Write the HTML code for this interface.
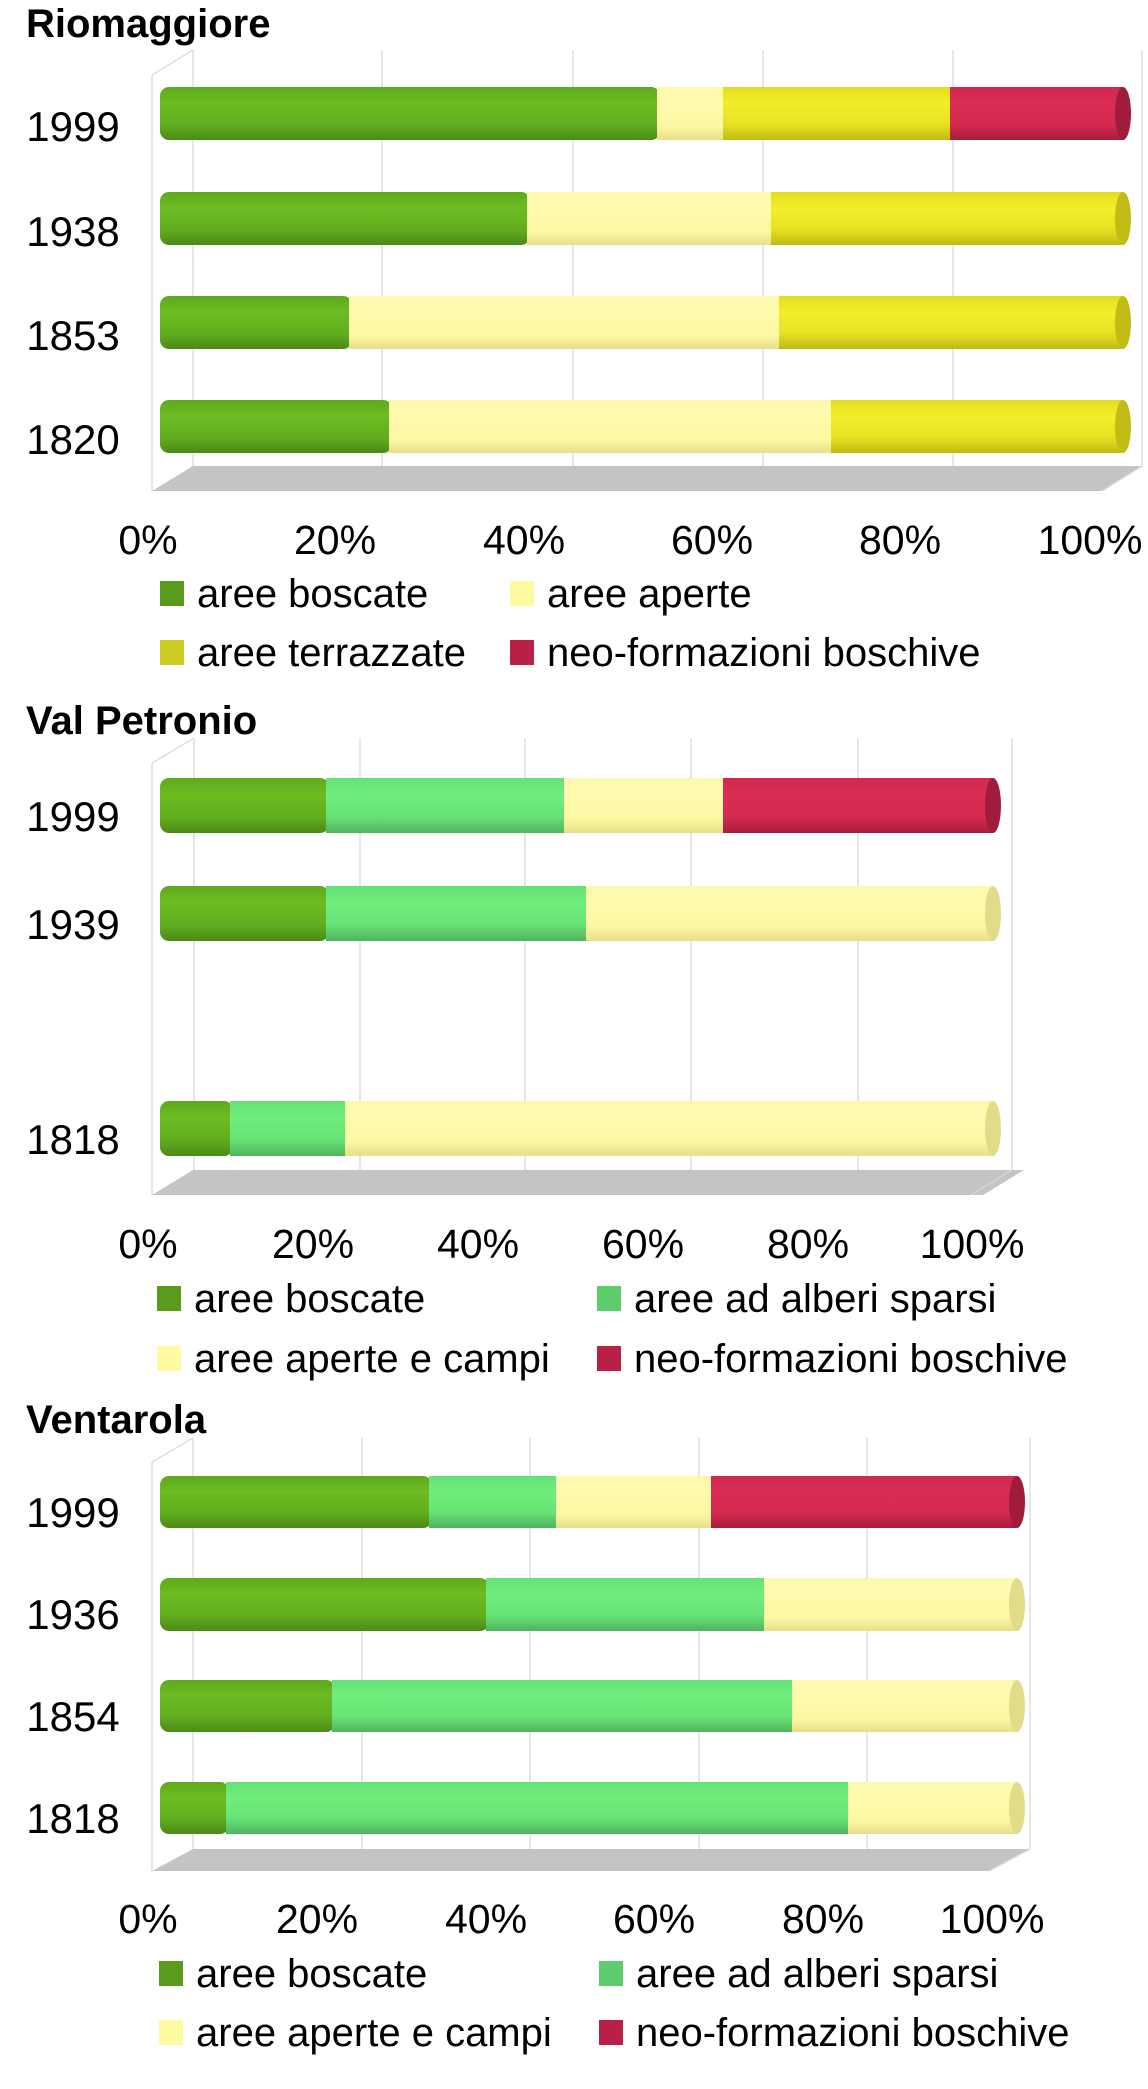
<!DOCTYPE html>
<html><head><meta charset="utf-8"><style>
html,body{margin:0;padding:0;background:#fff;}
svg{display:block;}
text{font-family:"Liberation Sans",Arial,sans-serif;fill:#000;}
.t{font-size:40px;font-weight:bold;}
.y{font-size:42px;text-anchor:middle;}
.k{font-size:41px;text-anchor:middle;}
.l{font-size:40px;}
.g{stroke:#d8d8d8;stroke-width:1.3;fill:none;}
</style></head><body>
<svg width="1148" height="2089" viewBox="0 0 1148 2089" xmlns="http://www.w3.org/2000/svg">
<defs>
<linearGradient id="bo" x1="0" y1="0" x2="0" y2="1"><stop offset="0" stop-color="#5fa81e"/><stop offset="0.3" stop-color="#6cbc22"/><stop offset="0.7" stop-color="#62ae1f"/><stop offset="1" stop-color="#4c8a18"/></linearGradient>
<linearGradient id="ap" x1="0" y1="0" x2="0" y2="1"><stop offset="0" stop-color="#fdf8b0"/><stop offset="0.3" stop-color="#fefbae"/><stop offset="0.75" stop-color="#fcf7a2"/><stop offset="1" stop-color="#e6df88"/></linearGradient>
<linearGradient id="te" x1="0" y1="0" x2="0" y2="1"><stop offset="0" stop-color="#e2dc22"/><stop offset="0.3" stop-color="#f2ee2a"/><stop offset="0.7" stop-color="#e8e224"/><stop offset="1" stop-color="#c0ba12"/></linearGradient>
<linearGradient id="ne" x1="0" y1="0" x2="0" y2="1"><stop offset="0" stop-color="#d02850"/><stop offset="0.3" stop-color="#dc2c54"/><stop offset="0.7" stop-color="#d42a50"/><stop offset="1" stop-color="#a81c3c"/></linearGradient>
<linearGradient id="al" x1="0" y1="0" x2="0" y2="1"><stop offset="0" stop-color="#66e078"/><stop offset="0.3" stop-color="#70ee7c"/><stop offset="0.7" stop-color="#68e276"/><stop offset="1" stop-color="#50b45e"/></linearGradient>
</defs>

<!-- ============ CHART 1 ============ -->
<text class="t" x="26" y="37">Riomaggiore</text>
<polygon points="152,491 193,466 1142,466 1102,491" fill="#c4c4c4"/>
<line class="g" x1="152" y1="75" x2="193" y2="50"/>
<line class="g" x1="152" y1="75" x2="152" y2="491"/>
<line class="g" x1="193" y1="50" x2="193" y2="466"/>
<line class="g" x1="382" y1="50" x2="382" y2="466"/>
<line class="g" x1="573" y1="50" x2="573" y2="466"/>
<line class="g" x1="763" y1="50" x2="763" y2="466"/>
<line class="g" x1="953" y1="50" x2="953" y2="466"/>
<line class="g" x1="1142" y1="50" x2="1142" y2="466"/>
<line class="g" x1="1142" y1="466" x2="1102" y2="491"/>
<rect x="160" y="87" width="500" height="53" rx="9" fill="url(#bo)"/>
<rect x="657" y="87" width="66" height="53" fill="url(#ap)"/>
<rect x="723" y="87" width="227" height="53" fill="url(#te)"/>
<rect x="950" y="87" width="173" height="53" fill="url(#ne)"/>
<ellipse cx="1123" cy="113.5" rx="8" ry="26.5" fill="#a01c3c"/>
<rect x="160" y="192" width="370" height="53" rx="9" fill="url(#bo)"/>
<rect x="527" y="192" width="244" height="53" fill="url(#ap)"/>
<rect x="771" y="192" width="352" height="53" fill="url(#te)"/>
<ellipse cx="1123" cy="218.5" rx="8" ry="26.5" fill="#c2bc16"/>
<rect x="160" y="296" width="192" height="53" rx="9" fill="url(#bo)"/>
<rect x="349" y="296" width="430" height="53" fill="url(#ap)"/>
<rect x="779" y="296" width="344" height="53" fill="url(#te)"/>
<ellipse cx="1123" cy="322.5" rx="8" ry="26.5" fill="#c2bc16"/>
<rect x="160" y="400" width="232" height="53" rx="9" fill="url(#bo)"/>
<rect x="389" y="400" width="442" height="53" fill="url(#ap)"/>
<rect x="831" y="400" width="292" height="53" fill="url(#te)"/>
<ellipse cx="1123" cy="426.5" rx="8" ry="26.5" fill="#c2bc16"/>
<text class="y" x="73" y="141">1999</text>
<text class="y" x="73" y="246">1938</text>
<text class="y" x="73" y="350">1853</text>
<text class="y" x="73" y="454">1820</text>
<text class="k" x="148" y="554">0%</text>
<text class="k" x="335" y="554">20%</text>
<text class="k" x="524" y="554">40%</text>
<text class="k" x="712" y="554">60%</text>
<text class="k" x="900" y="554">80%</text>
<text class="k" x="1090" y="554">100%</text>
<rect x="160" y="581" width="24" height="25" fill="#5a9a1c"/>
<text class="l" x="197" y="607">aree boscate</text>
<rect x="510" y="581" width="24" height="25" fill="#fdfaa0"/>
<text class="l" x="547" y="607">aree aperte</text>
<rect x="160" y="640" width="24" height="25" fill="#cccc22"/>
<text class="l" x="197" y="666">aree terrazzate</text>
<rect x="510" y="640" width="24" height="25" fill="#b82045"/>
<text class="l" x="547" y="666">neo-formazioni boschive</text>

<!-- ============ CHART 2 ============ -->
<text class="t" x="26" y="734">Val Petronio</text>
<polygon points="152,1195 193,1170 1024,1170 983,1195" fill="#c4c4c4"/>
<line class="g" x1="152" y1="763" x2="194" y2="738"/>
<line class="g" x1="152" y1="763" x2="152" y2="1195"/>
<line class="g" x1="194" y1="738" x2="194" y2="1170"/>
<line class="g" x1="360" y1="738" x2="360" y2="1170"/>
<line class="g" x1="525" y1="738" x2="525" y2="1170"/>
<line class="g" x1="691" y1="738" x2="691" y2="1170"/>
<line class="g" x1="858" y1="738" x2="858" y2="1170"/>
<line class="g" x1="1012" y1="738" x2="1012" y2="1170"/>
<line class="g" x1="1012" y1="1170" x2="971" y2="1195"/>
<rect x="160" y="778" width="169" height="55" rx="9" fill="url(#bo)"/>
<rect x="326" y="778" width="238" height="55" fill="url(#al)"/>
<rect x="564" y="778" width="159" height="55" fill="url(#ap)"/>
<rect x="723" y="778" width="270" height="55" fill="url(#ne)"/>
<ellipse cx="993" cy="805.5" rx="8" ry="27.5" fill="#a01c3c"/>
<rect x="160" y="886" width="169" height="55" rx="9" fill="url(#bo)"/>
<rect x="326" y="886" width="260" height="55" fill="url(#al)"/>
<rect x="586" y="886" width="407" height="55" fill="url(#ap)"/>
<ellipse cx="993" cy="913.5" rx="8" ry="27.5" fill="#e2dc8a"/>
<rect x="160" y="1101" width="73" height="55" rx="9" fill="url(#bo)"/>
<rect x="230" y="1101" width="115" height="55" fill="url(#al)"/>
<rect x="345" y="1101" width="648" height="55" fill="url(#ap)"/>
<ellipse cx="993" cy="1128.5" rx="8" ry="27.5" fill="#e2dc8a"/>
<text class="y" x="73" y="831">1999</text>
<text class="y" x="73" y="939">1939</text>
<text class="y" x="73" y="1154">1818</text>
<text class="k" x="148" y="1258">0%</text>
<text class="k" x="313" y="1258">20%</text>
<text class="k" x="478" y="1258">40%</text>
<text class="k" x="643" y="1258">60%</text>
<text class="k" x="808" y="1258">80%</text>
<text class="k" x="972" y="1258">100%</text>
<rect x="157" y="1286" width="24" height="25" fill="#5a9a1c"/>
<text class="l" x="194" y="1312">aree boscate</text>
<rect x="597" y="1286" width="24" height="25" fill="#5ccc6c"/>
<text class="l" x="634" y="1312">aree ad alberi sparsi</text>
<rect x="157" y="1346" width="24" height="25" fill="#fdfaa0"/>
<text class="l" x="194" y="1372">aree aperte e campi</text>
<rect x="597" y="1346" width="24" height="25" fill="#b82045"/>
<text class="l" x="634" y="1372">neo-formazioni boschive</text>

<!-- ============ CHART 3 ============ -->
<text class="t" x="26" y="1433">Ventarola</text>
<polygon points="152,1871 193,1849 1030,1849 989,1871" fill="#c4c4c4"/>
<line class="g" x1="152" y1="1462" x2="193" y2="1438"/>
<line class="g" x1="152" y1="1462" x2="152" y2="1871"/>
<line class="g" x1="193" y1="1438" x2="193" y2="1849"/>
<line class="g" x1="362" y1="1438" x2="362" y2="1849"/>
<line class="g" x1="530" y1="1438" x2="530" y2="1849"/>
<line class="g" x1="699" y1="1438" x2="699" y2="1849"/>
<line class="g" x1="867" y1="1438" x2="867" y2="1849"/>
<line class="g" x1="1030" y1="1438" x2="1030" y2="1849"/>
<line class="g" x1="1030" y1="1849" x2="989" y2="1871"/>
<rect x="160" y="1476" width="272" height="52" rx="9" fill="url(#bo)"/>
<rect x="429" y="1476" width="127" height="52" fill="url(#al)"/>
<rect x="556" y="1476" width="155" height="52" fill="url(#ap)"/>
<rect x="711" y="1476" width="306" height="52" fill="url(#ne)"/>
<ellipse cx="1017" cy="1502" rx="8" ry="26" fill="#a01c3c"/>
<rect x="160" y="1578" width="329" height="53" rx="9" fill="url(#bo)"/>
<rect x="486" y="1578" width="278" height="53" fill="url(#al)"/>
<rect x="764" y="1578" width="253" height="53" fill="url(#ap)"/>
<ellipse cx="1017" cy="1604.5" rx="8" ry="26.5" fill="#e2dc8a"/>
<rect x="160" y="1680" width="175" height="52" rx="9" fill="url(#bo)"/>
<rect x="332" y="1680" width="460" height="52" fill="url(#al)"/>
<rect x="792" y="1680" width="225" height="52" fill="url(#ap)"/>
<ellipse cx="1017" cy="1706" rx="8" ry="26" fill="#e2dc8a"/>
<rect x="160" y="1782" width="69" height="52" rx="9" fill="url(#bo)"/>
<rect x="226" y="1782" width="622" height="52" fill="url(#al)"/>
<rect x="848" y="1782" width="169" height="52" fill="url(#ap)"/>
<ellipse cx="1017" cy="1808" rx="8" ry="26" fill="#e2dc8a"/>
<text class="y" x="73" y="1527">1999</text>
<text class="y" x="73" y="1629">1936</text>
<text class="y" x="73" y="1731">1854</text>
<text class="y" x="73" y="1833">1818</text>
<text class="k" x="148" y="1933">0%</text>
<text class="k" x="317" y="1933">20%</text>
<text class="k" x="486" y="1933">40%</text>
<text class="k" x="654" y="1933">60%</text>
<text class="k" x="823" y="1933">80%</text>
<text class="k" x="992" y="1933">100%</text>
<rect x="159" y="1961" width="24" height="25" fill="#5a9a1c"/>
<text class="l" x="196" y="1987">aree boscate</text>
<rect x="599" y="1961" width="24" height="25" fill="#5ccc6c"/>
<text class="l" x="636" y="1987">aree ad alberi sparsi</text>
<rect x="159" y="2020" width="24" height="25" fill="#fdfaa0"/>
<text class="l" x="196" y="2046">aree aperte e campi</text>
<rect x="599" y="2020" width="24" height="25" fill="#b82045"/>
<text class="l" x="636" y="2046">neo-formazioni boschive</text>
</svg>
</body></html>
